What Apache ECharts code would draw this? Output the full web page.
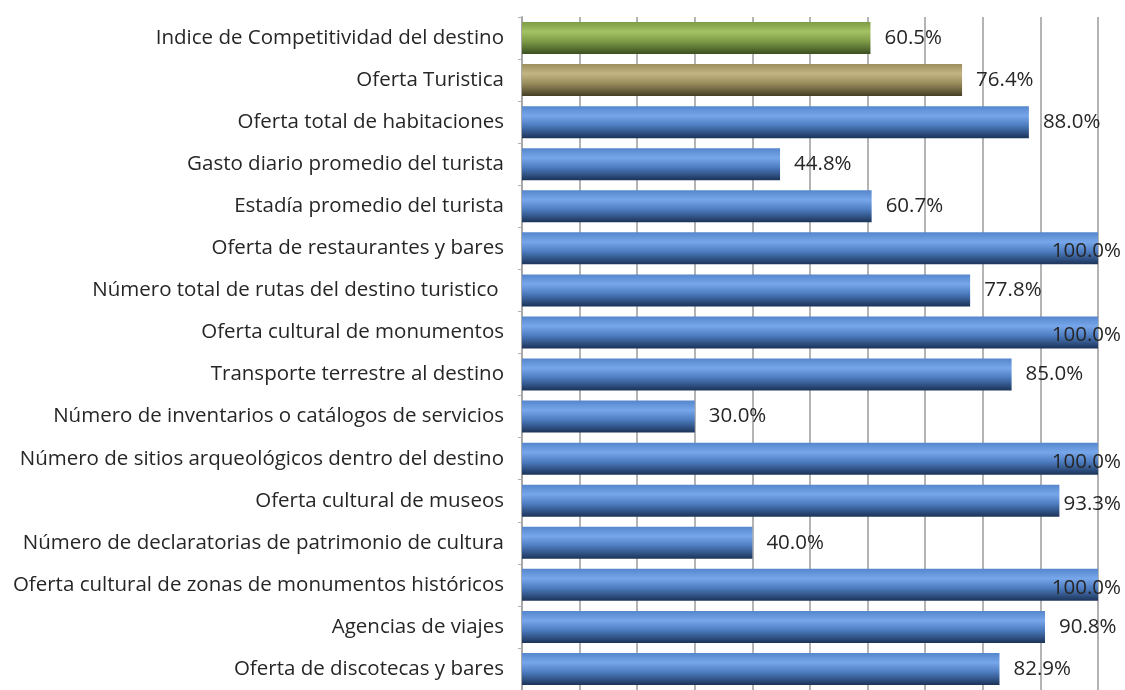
<!DOCTYPE html>
<html>
<head>
<meta charset="utf-8">
<script src="https://cdn.jsdelivr.net/npm/echarts@6/dist/echarts.min.js"></script>
<style>
  html, body { margin: 0; padding: 0; background: #fff; }
  #main { width: 1125px; height: 690px; }
</style>
</head>
<body>
<div id="main"></div>
<script>
// categorias de arriba hacia abajo
var categories = [
  'Indice de Competitividad del destino',
  'Oferta Turistica',
  'Oferta total de habitaciones',
  'Gasto diario promedio del turista',
  'Estadía promedio del turista',
  'Oferta de restaurantes y bares',
  'Número total de rutas del destino turistico ',
  'Oferta cultural de monumentos',
  'Transporte terrestre al destino',
  'Número de inventarios o catálogos de servicios',
  'Número de sitios arqueológicos dentro del destino',
  'Oferta cultural de museos',
  'Número de declaratorias de patrimonio de cultura',
  'Oferta cultural de zonas de monumentos históricos',
  'Agencias de viajes',
  'Oferta de discotecas y bares'
];
var values = [60.5, 76.4, 88.0, 44.8, 60.7, 100, 77.8, 100, 85.0, 30.0, 100, 93.3, 40.0, 100, 90.8, 82.9];
// 0 = indice, 1 = oferta, 2 = indicador
var barKind = [0, 1, 2, 2, 2, 2, 2, 2, 2, 2, 2, 2, 2, 2, 2, 2];

function grad(top, light, mid, dark) {
  return new echarts.graphic.LinearGradient(0, 0, 0, 1, [
    { offset: 0, color: top },
    { offset: 0.3, color: light },
    { offset: 0.6, color: mid },
    { offset: 1, color: dark }
  ]);
}
var fills = [
  grad('#7d9c45', '#a3c264', '#7e9c47', '#3b4f22'),
  grad('#9c8f5d', '#c3b584', '#9a8d5c', '#453e25'),
  grad('#5586cc', '#77a7ea', '#4d7cc0', '#1b3358')
];

var chart = echarts.init(document.getElementById('main'));

var data = values.map(function (v, i) {
  return { value: v, itemStyle: { color: fills[barKind[i]] } };
});

chart.setOption({
  animation: false,
  grid: { left: 522, right: 27, top: 17, height: 677, containLabel: false },
  xAxis: {
    type: 'value',
    min: 0,
    max: 100,
    interval: 10,
    axisLabel: { show: false },
    axisLine: { show: false },
    axisTick: { show: false },
    splitLine: { lineStyle: { color: '#b4b4b4', width: 2 } }
  },
  yAxis: {
    type: 'category',
    inverse: true,
    data: categories,
    axisLine: { show: true, lineStyle: { color: '#a8a8a8', width: 2 } },
    axisTick: { show: true, length: 4, lineStyle: { color: '#b0b0b0' } },
    axisLabel: {
      fontFamily: 'Open Sans',
      fontSize: 20.5,
      color: '#262626',
      margin: 18,
      padding: [4, 0, 0, 0]
    }
  },
  series: [{
    type: 'bar',
    data: data,
    barWidth: 32,
    label: {
      show: true,
      position: 'right',
      distance: 14,
      offset: [0, 3],
      fontFamily: 'Open Sans',
      fontSize: 20.5,
      color: '#262626',
      formatter: function (p) { return p.value.toFixed(1) + '%'; }
    },
    // como en Excel: la etiqueta que no cabe se empuja hacia dentro
    labelLayout: function (p) {
      var maxX = chart.getWidth() - 4;
      var r = p.labelRect;
      if (r.x + r.width > maxX) {
        return { x: maxX - r.width, y: r.y, align: 'left', verticalAlign: 'top' };
      }
      return {};
    }
  }]
});
</script>
</body>
</html>
